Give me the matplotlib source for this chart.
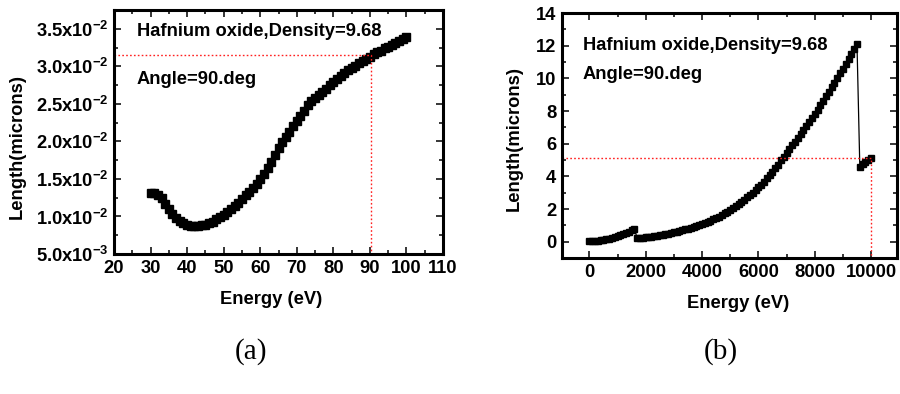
import numpy as np
import matplotlib
matplotlib.use("Agg")
import matplotlib.pyplot as plt
from matplotlib.ticker import MultipleLocator, FixedLocator

plt.rcParams['font.family'] = ['Liberation Sans', 'DejaVu Sans']
plt.rcParams['font.weight'] = 'bold'
plt.rcParams['mathtext.fontset'] = 'custom'
plt.rcParams['mathtext.rm'] = 'Liberation Sans:bold'
plt.rcParams['mathtext.bf'] = 'Liberation Sans:bold'
plt.rcParams['mathtext.default'] = 'rm'

# ---- panel (a): attenuation length, 30-100 eV ----
energy_a = list(range(30, 101))
length_a = [
    0.0131, 0.0131, 0.0129, 0.0124, 0.0117, 0.0110, 0.0103, 0.0098, 0.0094, 0.0091,
    0.0089, 0.0087, 0.0087, 0.0087, 0.0088, 0.0089, 0.0091, 0.0093, 0.0096, 0.0099,
    0.0102, 0.0106, 0.0110, 0.0114, 0.0118, 0.0123, 0.0128, 0.0133, 0.0138, 0.0143,
    0.0150, 0.0157, 0.0165, 0.0173, 0.0182, 0.0191, 0.0199, 0.0206, 0.0213, 0.0220,
    0.0227, 0.0234, 0.0241, 0.0248, 0.0254, 0.0258, 0.0262, 0.0266, 0.0270, 0.0275,
    0.0279, 0.0283, 0.0287, 0.0291, 0.0295, 0.0298, 0.0301, 0.0304, 0.0307, 0.0310,
    0.0313, 0.0316, 0.0319, 0.0321, 0.0324, 0.0326, 0.0329, 0.0331, 0.0334, 0.0336,
    0.0339,
]
ref_a = (90.2, 0.0315)
yticks_a = [0.005, 0.010, 0.015, 0.020, 0.025, 0.030, 0.035]
yticklabels_a = [r'5.0x10$^{-3}$', r'1.0x10$^{-2}$', r'1.5x10$^{-2}$', r'2.0x10$^{-2}$',
                 r'2.5x10$^{-2}$', r'3.0x10$^{-2}$', r'3.5x10$^{-2}$']
xticks_a = [20, 30, 40, 50, 60, 70, 80, 90, 100, 110]

# ---- panel (b): attenuation length, 0-10000 eV (100 eV steps) ----
energy_b = list(range(0, 10001, 100))
length_b = [
    # 0 - 1600 eV
    0.02, 0.03, 0.05, 0.07, 0.09, 0.12, 0.15, 0.18, 0.22, 0.27,
    0.33, 0.39, 0.46, 0.54, 0.62, 0.71, 0.80,
    # 1700 - 9500 eV
    0.20, 0.22, 0.24, 0.26, 0.28, 0.30, 0.33, 0.36, 0.39, 0.42,
    0.45, 0.49, 0.53, 0.57, 0.61, 0.65, 0.70, 0.75, 0.80, 0.85,
    0.90, 0.96, 1.02, 1.08, 1.15, 1.22, 1.29, 1.37, 1.45, 1.54,
    1.63, 1.73, 1.83, 1.94, 2.05, 2.17, 2.30, 2.43, 2.57, 2.71,
    2.86, 3.01, 3.17, 3.33, 3.50, 3.68, 3.87, 4.06, 4.27, 4.49,
    4.72, 4.97, 5.20, 5.43, 5.66, 5.89, 6.12, 6.36, 6.60, 6.84,
    7.08, 7.33, 7.58, 7.83, 8.09, 8.35, 8.62, 8.89, 9.16, 9.44,
    9.73, 10.02, 10.31, 10.60, 10.90, 11.20, 11.50, 11.80, 12.10,
    # 9600 - 10000 eV
    4.60, 4.73, 4.87, 5.00, 5.12,
]
ref_b = (10000, 5.1)
yticks_b = [0, 2, 4, 6, 8, 10, 12, 14]
xticks_b = [0, 2000, 4000, 6000, 8000, 10000]

FS = 13.2
W, H = 900, 394
fig = plt.figure(figsize=(W / 100, H / 100), dpi=100)


def frame(ax):
    for s in ax.spines.values():
        s.set_linewidth(2.2)
    ax.tick_params(which='both', direction='in', top=True, right=True,
                   labelsize=FS, width=1.1, pad=4)
    ax.tick_params(which='major', length=5)
    ax.tick_params(which='minor', length=3)
    for lab in ax.get_xticklabels() + ax.get_yticklabels():
        lab.set_fontweight('bold')


guide = dict(color='#ff2020', lw=1.0, ls=(0, (1.2, 1.6)))

# panel (a)
axa = fig.add_axes([114 / W, 1 - 254 / H, 329 / W, 244 / H])
axa.plot(energy_a, length_a, 's-', color='black', ms=5.6, lw=1)
axa.plot([20, ref_a[0], ref_a[0]], [ref_a[1], ref_a[1], 0.005], **guide)
axa.set_xlim(20, 110)
axa.set_ylim(0.005, 0.0375)
axa.xaxis.set_major_locator(FixedLocator(xticks_a))
axa.xaxis.set_minor_locator(MultipleLocator(5))
axa.set_yticks(yticks_a)
axa.set_yticklabels(yticklabels_a)
axa.yaxis.set_minor_locator(MultipleLocator(0.0025))
frame(axa)
axa.set_xlabel('Energy (eV)', fontsize=FS, fontweight='bold')
axa.set_ylabel('Length(microns)', fontsize=FS, fontweight='bold')
axa.xaxis.set_label_coords(0.477, -0.15)
axa.yaxis.set_label_coords(-0.267, 0.44)
axa.text(0.07, 0.91, 'Hafnium oxide,Density=9.68', transform=axa.transAxes,
         fontsize=FS, fontweight='bold', va='center', ha='left')
axa.text(0.07, 0.717, 'Angle=90.deg', transform=axa.transAxes,
         fontsize=FS, fontweight='bold', va='center', ha='left')

# panel (b)
axb = fig.add_axes([562 / W, 1 - 258 / H, 335 / W, 245 / H])
axb.plot(energy_b, length_b, 's-', color='black', ms=5.0, lw=0.9)
axb.plot([-970, ref_b[0], ref_b[0]], [ref_b[1], ref_b[1], -1], **guide)
axb.set_xlim(-970, 10920)
axb.set_ylim(-1, 14)
axb.xaxis.set_major_locator(FixedLocator(xticks_b))
axb.xaxis.set_minor_locator(MultipleLocator(1000))
axb.yaxis.set_major_locator(FixedLocator(yticks_b))
axb.yaxis.set_minor_locator(MultipleLocator(1))
frame(axb)
axb.set_xlabel('Energy (eV)', fontsize=FS, fontweight='bold')
axb.set_ylabel('Length(microns)', fontsize=FS, fontweight='bold')
axb.xaxis.set_label_coords(0.525, -0.15)
axb.yaxis.set_label_coords(-0.117, 0.486)
axb.text(0.062, 0.869, 'Hafnium oxide,Density=9.68', transform=axb.transAxes,
         fontsize=FS, fontweight='bold', va='center', ha='left')
axb.text(0.062, 0.747, 'Angle=90.deg', transform=axb.transAxes,
         fontsize=FS, fontweight='bold', va='center', ha='left')

# sub-figure captions
fig.text(251 / W, 1 - 352 / H, '(a)', family='Liberation Serif', fontsize=21,
         fontweight='normal', ha='center', va='center')
fig.text(721 / W, 1 - 352 / H, '(b)', family='Liberation Serif', fontsize=21,
         fontweight='normal', ha='center', va='center')

fig.savefig('out.png', dpi=100)
